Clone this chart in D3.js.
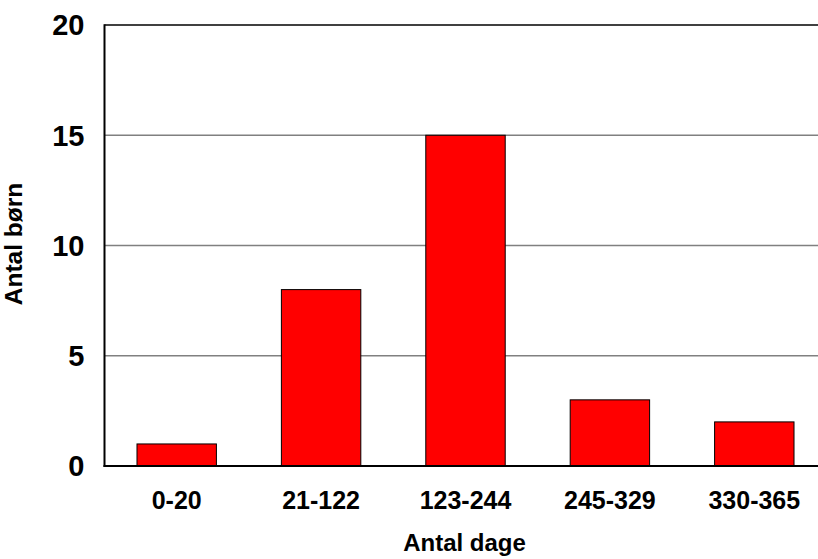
<!DOCTYPE html>
<html><head><meta charset="utf-8">
<script src="https://cdn.jsdelivr.net/npm/d3@7"></script>
<style>body{margin:0;background:#fff}svg{display:block}text{font-family:"Liberation Sans",Arial,sans-serif;font-weight:bold;fill:#000}</style>
</head><body>
<script>
const categories = ["0-20","21-122","123-244","245-329","330-365"];
const values = [1,8,15,3,2];
const yTicks = [0,5,10,15,20];
const xTitle = "Antal dage";
const yTitle = "Antal børn";

const W=818,H=559;
const m={left:104.5,top:25,right:826.5,bottom:466};
const svg=d3.select("body").append("svg").attr("width",W).attr("height",H);
const x=d3.scaleBand().domain(categories).range([m.left,m.right]).paddingInner(0.45).paddingOuter(0.225);
const y=d3.scaleLinear().domain([0,20]).range([m.bottom,m.top]);

// gridlines
svg.append("g").selectAll("line").data(yTicks.filter(d=>d>0&&d<20)).join("line")
  .attr("x1",m.left).attr("x2",m.right).attr("y1",d=>y(d)).attr("y2",d=>y(d))
  .attr("stroke","#808080").attr("stroke-width",1.3);
// top border
svg.append("line").attr("x1",m.left).attr("x2",m.right).attr("y1",y(20)).attr("y2",y(20)).attr("stroke","#000").attr("stroke-width",1.5);

// bars
svg.append("g").selectAll("rect").data(values).join("rect")
  .attr("x",(d,i)=>x(categories[i])).attr("width",x.bandwidth())
  .attr("y",d=>y(d)).attr("height",d=>y(0)-y(d))
  .attr("fill","#ff0000").attr("stroke","#000").attr("stroke-width",1);

// axes lines
svg.append("line").attr("x1",m.left).attr("x2",m.left).attr("y1",m.top-0.75).attr("y2",m.bottom+1).attr("stroke","#000").attr("stroke-width",2);
svg.append("line").attr("x1",m.left-1).attr("x2",m.right).attr("y1",m.bottom).attr("y2",m.bottom).attr("stroke","#000").attr("stroke-width",2);

// y tick labels
const ya=d3.axisLeft(y).tickValues(yTicks).tickSize(0).tickPadding(20);
const gy=svg.append("g").attr("transform",`translate(${m.left},0)`).call(ya);
gy.select(".domain").remove();
gy.selectAll("text").style("font-size","29px").attr("dy","0.34em");

// x tick labels
const xa=d3.axisBottom(x).tickSize(0).tickPadding(25);
const gx=svg.append("g").attr("transform",`translate(0,${m.bottom})`).call(xa);
gx.select(".domain").remove();
gx.selectAll("text").style("font-size","25px").attr("dy","0.71em");

// titles
svg.append("text").attr("x",464.5).attr("y",551).attr("text-anchor","middle").style("font-size","24px").text(xTitle);
svg.append("text").attr("transform","translate(22,244) rotate(-90)").attr("text-anchor","middle").style("font-size","24.5px").text(yTitle);
</script>
</body></html>
